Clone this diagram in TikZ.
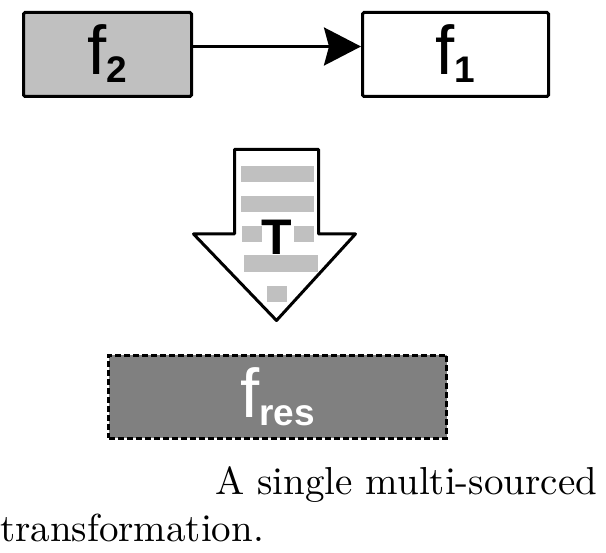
\documentclass[tikz,border=0pt]{standalone}
\usepackage{fontspec}
\newfontfamily\sansf{Liberation Sans}
\newfontfamily\capf{lmroman10-regular.otf}
\usetikzlibrary{arrows.meta}
\definecolor{lgray}{HTML}{C0C0C0}
\definecolor{dgray}{HTML}{808080}
\newcommand\flab[1]{f\raisebox{-8pt}{\fontsize{37}{37}\selectfont\bfseries #1}}
\begin{document}
\begin{tikzpicture}[x=1pt,y=-1pt,
  box/.style={draw=black, line width=3pt, rounded corners=1.5pt, inner sep=0pt,
    text height=41pt, text depth=0pt, font=\sansf\fontsize{69}{69}\selectfont},
  bar/.style={fill=lgray},
  captext/.style={anchor=base west, inner sep=0pt, font=\capf\fontsize{39}{47}\selectfont}]
\useasboundingbox (0,0) rectangle (606,553);
% top boxes
\node[box, fill=lgray, minimum width=168pt, minimum height=84pt] (f2) at (107.5,54.5) {\flab{2}};
\node[box, fill=white, minimum width=186pt, minimum height=84pt] (f1) at (455.5,54.5) {\flab{1}};
\draw[line width=3pt, -{Stealth[length=37pt,width=38pt,inset=5pt]}]
  ([yshift=8pt]f2.east) -- ([yshift=8pt]f1.west);
% transformation arrow
\draw[line width=3pt, line join=round, fill=white]
  (234.5,149.5) -- (318.5,149.5) -- (318.5,234) -- (355.5,234) -- (276.5,320.5)
  -- (193.5,234) -- (234.5,234) -- cycle;
\fill[bar] (241,166) rectangle (314,182);
\fill[bar] (241,196) rectangle (314,212);
\fill[bar] (242,226) rectangle (262,242);
\fill[bar] (294,226) rectangle (314,242);
\fill[bar] (244,255) rectangle (318,272);
\fill[bar] (267,286) rectangle (287,302);
\node[inner sep=0pt, font=\sansf\bfseries\fontsize{50}{50}\selectfont] (T) at (277,237.5) {T};
% result
\node[box, fill=dgray, dash pattern=on 6pt off 3pt, rounded corners=0pt, text=white,
  minimum width=338pt, minimum height=83pt] (fres) at (277.5,397) {\flab{res}};
% caption
\node[captext] (cap1) at (215,495) {A single multi-sourced};
\node[captext] (cap2) at (0,542) {transformation.};
\end{tikzpicture}
\end{document}
